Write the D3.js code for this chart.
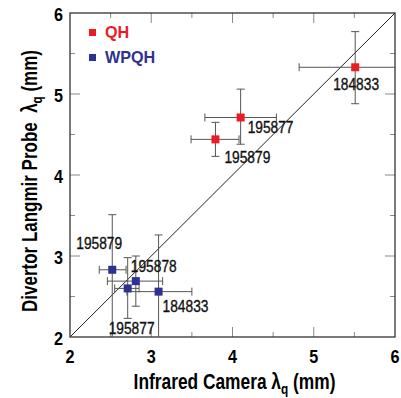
<!DOCTYPE html>
<html>
<head>
<meta charset="utf-8">
<script src="https://d3js.org/d3.v7.min.js"></script>
<style>
  body { margin: 0; background: #fff; }
  text { font-family: "Liberation Sans", Arial, sans-serif; }
</style>
</head>
<body>
<svg width="401" height="398"></svg>
<script>
// QH points
const qhShots = ["184833", "195877", "195879"];
const qhIR    = [5.51, 4.10, 3.79];
const qhIRLo  = [4.82, 3.66, 3.49];
const qhIRHi  = [6.10, 4.54, 4.08];
const qhLP    = [5.33, 4.71, 4.44];
const qhLPLo  = [4.88, 4.38, 4.23];
const qhLPHi  = [5.77, 5.06, 4.65];

// WPQH points
const wpShots = ["195879", "195878", "195877", "184833"];
const wpIR    = [2.52, 2.81, 2.71, 3.09];
const wpIRLo  = [2.36, 2.46, 2.55, 2.70];
const wpIRHi  = [2.69, 3.14, 2.85, 3.50];
const wpLP    = [2.83, 2.69, 2.60, 2.56];
const wpLPLo  = [1.90, 2.38, 2.23, 1.90];
const wpLPHi  = [3.51, 3.00, 2.98, 3.26];

// label nudges (px) for the shot numbers
const qhLabelOff = [[-22, 23], [7, 16], [9, 24]];
const wpLabelOff = [[-36, -21], [-5, -9], [-19, 46], [4, 20]];

const ticks = [2, 3, 4, 5, 6];
const minorTicks = [2.5, 3.5, 4.5, 5.5];

const svg = d3.select("svg");
const pL = 70, pR = 395, pT = 13, pB = 337;

const x = d3.scaleLinear().domain([2, 6]).range([pL, pR]);
const y = d3.scaleLinear().domain([2, 6]).range([pB, pT]);

// the original uses a condensed helvetica, so squeeze text horizontally
const squeeze = (tx, ty, s, rot) => "translate(" + tx + "," + ty + ")" + (rot ? " rotate(" + rot + ")" : "") + " scale(" + s + ",1)";

svg.append("clipPath").attr("id", "clip")
  .append("rect").attr("x", pL).attr("y", pT)
  .attr("width", pR - pL).attr("height", pB - pT);

// ticks on all four sides, pointing inward
const tickCol = "#8a8a8a";
function drawTicks(vals, len) {
  vals.forEach(v => {
    svg.append("line").attr("x1", x(v)).attr("x2", x(v)).attr("y1", pB).attr("y2", pB - len).attr("stroke", tickCol);
    svg.append("line").attr("x1", x(v)).attr("x2", x(v)).attr("y1", pT).attr("y2", pT + len).attr("stroke", tickCol);
    svg.append("line").attr("y1", y(v)).attr("y2", y(v)).attr("x1", pL).attr("x2", pL + len).attr("stroke", tickCol);
    svg.append("line").attr("y1", y(v)).attr("y2", y(v)).attr("x1", pR).attr("x2", pR - len).attr("stroke", tickCol);
  });
}
drawTicks(ticks.slice(1, -1), 10);
drawTicks(minorTicks, 5);

// diagonal y = x
svg.append("line")
  .attr("x1", x(2)).attr("y1", y(2)).attr("x2", x(6)).attr("y2", y(6))
  .attr("stroke", "#222").attr("stroke-width", 1);

// frame
svg.append("rect").attr("x", pL).attr("y", pT)
  .attr("width", pR - pL).attr("height", pB - pT)
  .attr("fill", "none").attr("stroke", "#333").attr("stroke-width", 1.3);

// tick labels
svg.selectAll(".xt").data(ticks).enter().append("text")
  .attr("transform", d => squeeze(x(d), 363, 0.9))
  .attr("text-anchor", "middle").attr("font-size", 18).attr("font-weight", "bold")
  .text(d => d);
svg.selectAll(".yt").data(ticks).enter().append("text")
  .attr("transform", d => squeeze(63, y(d) + 7.5, 0.9))
  .attr("text-anchor", "end").attr("font-size", 18).attr("font-weight", "bold")
  .text(d => d);

// axis titles, fitted to the width they take in the original
function title(tx, ty, rot, label, width) {
  const t = svg.append("text").attr("text-anchor", "middle")
    .attr("font-size", 22).attr("font-weight", "bold");
  t.append("tspan").text(label);
  t.append("tspan").text("λ");
  t.append("tspan").attr("font-size", 15).attr("dy", 5).text("q");
  t.append("tspan").attr("dy", -5).text(" (mm)");
  const w = t.node().getComputedTextLength();
  t.attr("transform", squeeze(tx, ty, width / w, rot));
}
title((pL + pR) / 2 + 2, 389, 0, "Infrared Camera ", 202);
title(37, 181, -90, "Divertor Langmir Probe\u00a0 ", 262);

// error bars + markers
function series(shots, ir, irLo, irHi, lp, lpLo, lpHi, offs, color) {
  const rows = shots.map((s, i) => ({ s, ir: ir[i], irLo: irLo[i], irHi: irHi[i], lp: lp[i], lpLo: lpLo[i], lpHi: lpHi[i], off: offs[i] }));
  const g = svg.append("g").attr("clip-path", "url(#clip)");
  const ec = "#555", cap = 4;
  rows.forEach(d => {
    g.append("line").attr("x1", x(d.irLo)).attr("x2", x(d.irHi)).attr("y1", y(d.lp)).attr("y2", y(d.lp)).attr("stroke", ec);
    g.append("line").attr("x1", x(d.irLo)).attr("x2", x(d.irLo)).attr("y1", y(d.lp) - cap).attr("y2", y(d.lp) + cap).attr("stroke", ec);
    g.append("line").attr("x1", x(d.irHi)).attr("x2", x(d.irHi)).attr("y1", y(d.lp) - cap).attr("y2", y(d.lp) + cap).attr("stroke", ec);
    g.append("line").attr("x1", x(d.ir)).attr("x2", x(d.ir)).attr("y1", y(d.lpLo)).attr("y2", y(d.lpHi)).attr("stroke", ec);
    g.append("line").attr("x1", x(d.ir) - cap).attr("x2", x(d.ir) + cap).attr("y1", y(d.lpLo)).attr("y2", y(d.lpLo)).attr("stroke", ec);
    g.append("line").attr("x1", x(d.ir) - cap).attr("x2", x(d.ir) + cap).attr("y1", y(d.lpHi)).attr("y2", y(d.lpHi)).attr("stroke", ec);
  });
  rows.forEach(d => {
    svg.append("rect").attr("x", x(d.ir) - 4).attr("y", y(d.lp) - 4)
      .attr("width", 8).attr("height", 8).attr("fill", color);
  });
  rows.forEach(d => {
    svg.append("text")
      .attr("transform", squeeze(x(d.ir) + d.off[0], y(d.lp) + d.off[1], 0.86))
      .attr("font-size", 16).attr("fill", "#111")
      .attr("stroke", "#111").attr("stroke-width", 0.35)
      .text(d.s);
  });
}
const qhColor = "#ec1c24", wpColor = "#2e3192";
series(qhShots, qhIR, qhIRLo, qhIRHi, qhLP, qhLPLo, qhLPHi, qhLabelOff, qhColor);
series(wpShots, wpIR, wpIRLo, wpIRHi, wpLP, wpLPLo, wpLPHi, wpLabelOff, wpColor);

// legend
const legend = [["QH", qhColor], ["WPQH", wpColor]];
legend.forEach((l, i) => {
  svg.append("rect").attr("x", 89).attr("y", 29 + i * 25).attr("width", 7).attr("height", 7).attr("fill", l[1]);
  svg.append("text").attr("transform", squeeze(105, 38 + i * 25, 0.95))
    .attr("font-size", 17).attr("font-weight", "bold").attr("fill", l[1]).text(l[0]);
});
</script>
</body>
</html>
